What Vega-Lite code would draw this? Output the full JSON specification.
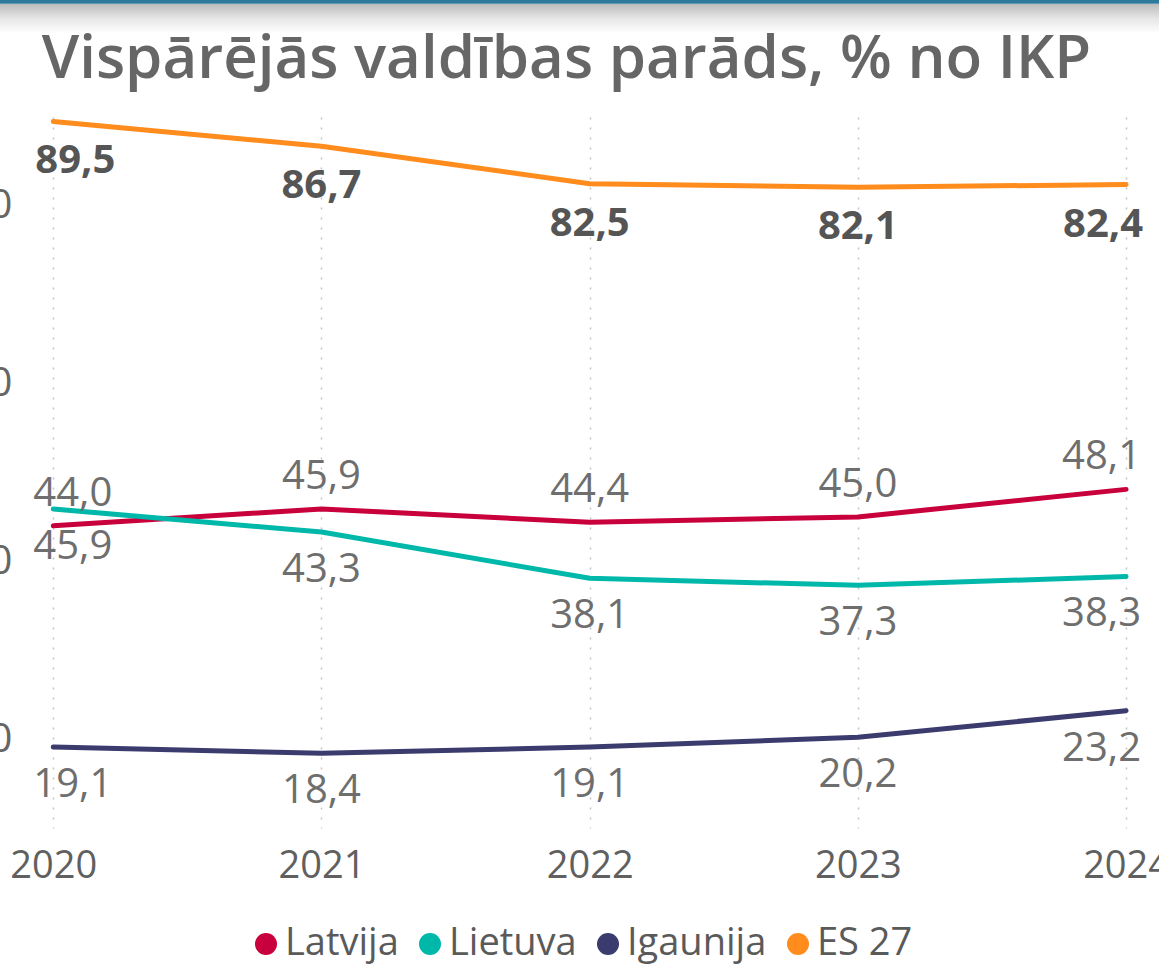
{
  "$schema": "https://vega.github.io/schema/vega-lite/v6.json",
  "width": 1159,
  "height": 711,
  "autosize": {"type": "none"},
  "padding": {"left": 0, "right": 0, "top": 117, "bottom": 139},
  "background": "white",
  "title": {
    "text": "Vispārējās valdības parāds, % no IKP",
    "font": "Open Sans",
    "fontSize": 60,
    "fontWeight": 600,
    "color": "#666666",
    "anchor": "middle",
    "frame": "group",
    "baseline": "alphabetic",
    "offset": -138,
    "dx": -13
  },
  "config": {
    "view": {"stroke": null},
    "font": "Open Sans",
    "legend": {"layout": {"bottom": {"anchor": "middle"}}},
    "locale": {"number": {"decimal": ",", "thousands": " ", "grouping": [3], "currency": ["", " €"]}}
  },
  "datasets": {
    "debt": [
      {"country": "Latvija", "year": 2020, "value": 44.0},
      {"country": "Latvija", "year": 2021, "value": 45.9},
      {"country": "Latvija", "year": 2022, "value": 44.4},
      {"country": "Latvija", "year": 2023, "value": 45.0},
      {"country": "Latvija", "year": 2024, "value": 48.1},
      {"country": "Lietuva", "year": 2020, "value": 45.9},
      {"country": "Lietuva", "year": 2021, "value": 43.3},
      {"country": "Lietuva", "year": 2022, "value": 38.1},
      {"country": "Lietuva", "year": 2023, "value": 37.3},
      {"country": "Lietuva", "year": 2024, "value": 38.3},
      {"country": "Igaunija", "year": 2020, "value": 19.1},
      {"country": "Igaunija", "year": 2021, "value": 18.4},
      {"country": "Igaunija", "year": 2022, "value": 19.1},
      {"country": "Igaunija", "year": 2023, "value": 20.2},
      {"country": "Igaunija", "year": 2024, "value": 23.2},
      {"country": "ES 27", "year": 2020, "value": 89.5},
      {"country": "ES 27", "year": 2021, "value": 86.7},
      {"country": "ES 27", "year": 2022, "value": 82.5},
      {"country": "ES 27", "year": 2023, "value": 82.1},
      {"country": "ES 27", "year": 2024, "value": 82.4}
    ]
  },
  "layer": [
    {
      "data": {"values": [{}]},
      "mark": {
        "type": "rect",
        "color": {
          "gradient": "linear",
          "x1": 0, "y1": 0, "x2": 0, "y2": 1,
          "stops": [
            {"offset": 0, "color": "#bbbbbb"},
            {"offset": 0.5, "color": "#e6e6e6"},
            {"offset": 1, "color": "#ffffff"}
          ]
        }
      },
      "encoding": {
        "x": {"datum": 2019.8013, "type": "quantitative", "scale": {"domain": [2019.8013, 2024.1227], "nice": false, "zero": false}},
        "x2": {"datum": 2024.1227},
        "y": {"datum": 102.75, "type": "quantitative", "scale": {"domain": [10, 90], "nice": false, "zero": false}},
        "y2": {"datum": 99.4}
      }
    },
    {
      "data": {"values": [{}]},
      "mark": {"type": "rect", "color": "#2e7a9c"},
      "encoding": {
        "x": {"datum": 2019.8013, "type": "quantitative", "scale": {"domain": [2019.8013, 2024.1227], "nice": false, "zero": false}},
        "x2": {"datum": 2024.1227},
        "y": {"datum": 103.2, "type": "quantitative", "scale": {"domain": [10, 90], "nice": false, "zero": false}},
        "y2": {"datum": 102.75}
      }
    },
    {
      "data": {"name": "debt"},
      "mark": {"type": "line", "strokeWidth": 5, "strokeCap": "round", "strokeJoin": "round"},
      "encoding": {
        "x": {
          "field": "year", "type": "quantitative",
          "scale": {"domain": [2019.8013, 2024.1227], "nice": false, "zero": false},
          "axis": {
            "title": null,
            "values": [2020, 2021, 2022, 2023, 2024],
            "format": "d",
            "domain": false,
            "ticks": false,
            "grid": true,
            "gridColor": "#c4c4c4",
            "gridDash": [2, 8],
            "gridWidth": 1.5,
            "labelFont": "Open Sans",
            "labelFontSize": 38,
            "labelColor": "#606060",
            "labelPadding": 19,
            "labelFlush": false,
            "labelOverlap": false,
            "labelBound": false
          }
        },
        "y": {
          "field": "value", "type": "quantitative",
          "scale": {"domain": [10, 90], "nice": false, "zero": false},
          "axis": {
            "title": null,
            "values": [20, 40, 60, 80],
            "domain": false,
            "ticks": false,
            "grid": false,
            "offset": -20,
            "labelPadding": 8,
            "labelFont": "Open Sans",
            "labelFontSize": 40,
            "labelColor": "#666666"
          }
        },
        "color": {
          "field": "country", "type": "nominal",
          "scale": {
            "domain": ["Latvija", "Lietuva", "Igaunija", "ES 27"],
            "range": ["#c8003c", "#00b8aa", "#3b3b6e", "#ff8c1c"]
          },
          "legend": {
            "title": null,
            "orient": "bottom",
            "direction": "horizontal",
            "offset": 40,
            "padding": 0,
            "symbolType": "circle",
            "symbolSize": 484,
            "symbolStrokeWidth": 0,
            "labelFont": "Open Sans",
            "labelFontSize": 38,
            "labelColor": "#5a5a5a",
            "labelOffset": 0,
            "columnPadding": 12,
            "encode": {
              "symbols": {"update": {"fill": {"scale": "color", "field": "value"}, "strokeWidth": {"value": 0}, "opacity": {"value": 1}}}
            }
          }
        }
      }
    },
    {
      "data": {"name": "debt"},
      "transform": [{"filter": "datum.country === 'Latvija'"}],
      "mark": {
        "type": "text",
        "font": "Open Sans",
        "fontSize": 40,
        "color": "#6e6e6e",
        "baseline": "alphabetic",
        "dy": -20,
        "align": {"expr": "datum.year === 2020 ? 'left' : datum.year === 2024 ? 'right' : 'center'"},
        "dx": {"expr": "datum.year === 2020 ? -20 : datum.year === 2024 ? 15 : 0"}
      },
      "encoding": {
        "x": {"field": "year", "type": "quantitative", "scale": {"domain": [2019.8013, 2024.1227], "nice": false, "zero": false}},
        "y": {"field": "value", "type": "quantitative", "scale": {"domain": [10, 90], "nice": false, "zero": false}},
        "text": {"field": "value", "type": "quantitative", "format": ".1f"}
      }
    },
    {
      "data": {"name": "debt"},
      "transform": [{"filter": "datum.country === 'Lietuva' || datum.country === 'Igaunija'"}],
      "mark": {
        "type": "text",
        "font": "Open Sans",
        "fontSize": 40,
        "color": "#6e6e6e",
        "baseline": "alphabetic",
        "dy": 50,
        "align": {"expr": "datum.year === 2020 ? 'left' : datum.year === 2024 ? 'right' : 'center'"},
        "dx": {"expr": "datum.year === 2020 ? -20 : datum.year === 2024 ? 15 : 0"}
      },
      "encoding": {
        "x": {"field": "year", "type": "quantitative", "scale": {"domain": [2019.8013, 2024.1227], "nice": false, "zero": false}},
        "y": {"field": "value", "type": "quantitative", "scale": {"domain": [10, 90], "nice": false, "zero": false}},
        "text": {"field": "value", "type": "quantitative", "format": ".1f"}
      }
    },
    {
      "data": {"name": "debt"},
      "transform": [{"filter": "datum.country === 'ES 27'"}],
      "mark": {
        "type": "text",
        "font": "Open Sans",
        "fontSize": 40,
        "fontWeight": "bold",
        "color": "#555555",
        "baseline": "alphabetic",
        "dy": 52,
        "align": {"expr": "datum.year === 2020 ? 'left' : datum.year === 2024 ? 'right' : 'center'"},
        "dx": {"expr": "datum.year === 2020 ? -18 : datum.year === 2024 ? 17 : 0"}
      },
      "encoding": {
        "x": {"field": "year", "type": "quantitative", "scale": {"domain": [2019.8013, 2024.1227], "nice": false, "zero": false}},
        "y": {"field": "value", "type": "quantitative", "scale": {"domain": [10, 90], "nice": false, "zero": false}},
        "text": {"field": "value", "type": "quantitative", "format": ".1f"}
      }
    }
  ]
}
